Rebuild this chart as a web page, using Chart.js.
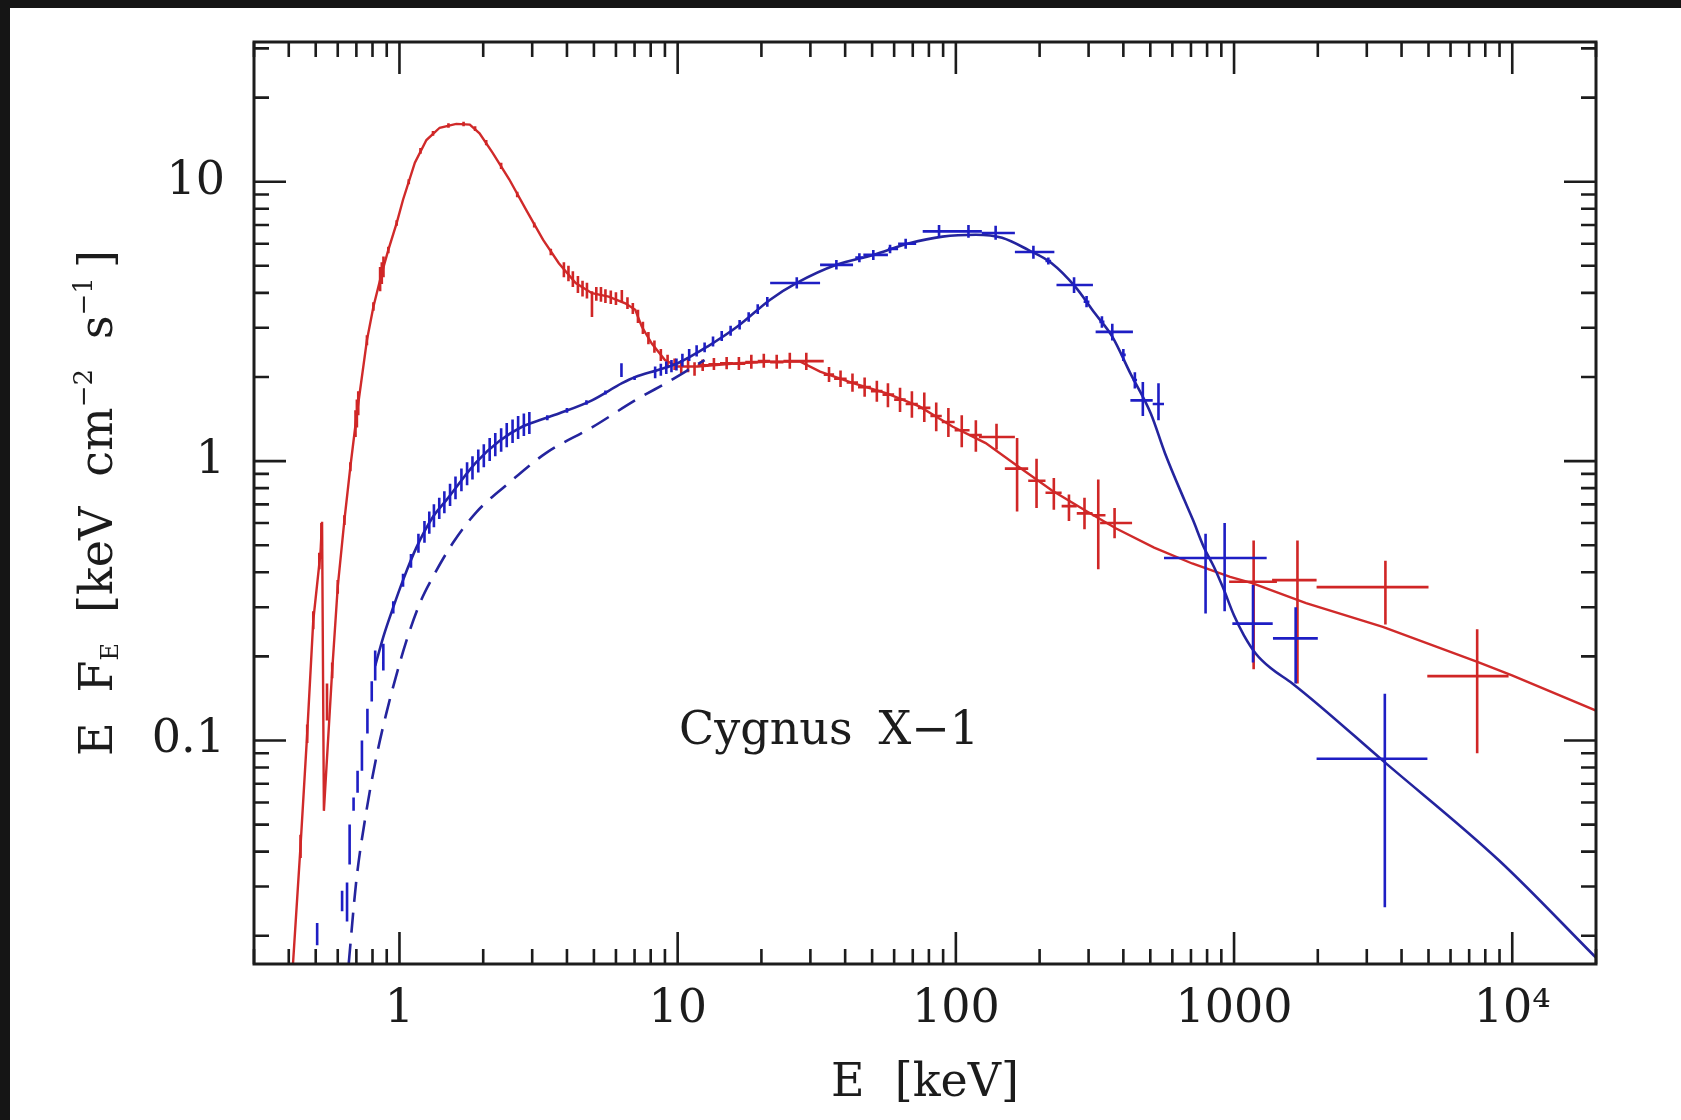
<!DOCTYPE html>
<html>
<head>
<meta charset="utf-8">
<title>Cygnus X-1</title>
<script src="https://cdn.jsdelivr.net/npm/chart.js@4.4.1/dist/chart.umd.min.js"></script>
<style>
  html, body { margin: 0; padding: 0; background: #151515; }
  body { width: 1681px; height: 1120px; overflow: hidden; position: relative; }
  #wrap { position: absolute; left: 10px; top: 8px; width: 1671px; height: 1112px; background: #fff; }
</style>
</head>
<body>
<div id="wrap"><canvas id="spec"></canvas></div>
<script>
// ejes (keV y keV cm^-2 s^-1)
const xTicks = [1, 10, 100, 1000, 10000];
const xTickLabels = ['1', '10', '100', '1000', '10⁴'];
const yTicks = [0.1, 1, 10];
const yTickLabels = ['0.1', '1', '10'];

// modelo estado blando (rojo)
const redModelE = [0.41, 0.441, 0.466, 0.49, 0.52, 0.527, 0.535, 0.573, 0.6, 0.634, 0.666, 0.703, 0.764, 0.806, 0.864, 0.912, 0.977, 1.03, 1.136, 1.25, 1.395, 1.6, 1.79, 1.94, 2.16, 2.48, 2.85, 3.28, 3.74, 4.3, 4.92, 5.65, 6.48, 7.04, 7.43, 8.06, 9.0, 10.0, 11.8, 16.4, 21.5, 27.6, 32.5, 42.7, 56.1, 73.9, 97.2, 128, 168, 221, 291, 377, 516, 707, 968, 1161, 1815, 3425, 7493, 9980, 20000];
const redModelF = [0.0135, 0.042, 0.106, 0.269, 0.468, 0.606, 0.056, 0.178, 0.355, 0.615, 0.954, 1.48, 2.71, 3.57, 4.71, 5.7, 7.11, 8.62, 11.7, 14.1, 15.6, 16.1, 16.0, 14.9, 12.7, 10.2, 7.94, 6.2, 5.11, 4.34, 3.99, 3.88, 3.67, 3.48, 3.03, 2.64, 2.3, 2.18, 2.18, 2.24, 2.27, 2.27, 2.09, 1.9, 1.75, 1.57, 1.33, 1.16, 0.955, 0.787, 0.667, 0.574, 0.49, 0.43, 0.385, 0.366, 0.31, 0.255, 0.191, 0.171, 0.128];

// modelo estado duro (azul) y componente a trazos
const blueModelE = [0.818, 0.875, 0.95, 1.03, 1.15, 1.32, 1.474, 1.886, 2.286, 2.77, 3.18, 3.74, 4.92, 6.31, 7.04, 8.5, 10, 12.8, 16.4, 21.5, 26.8, 37.2, 50.5, 68, 89.5, 118, 146.5, 182, 221, 268, 316, 365, 424, 502, 565, 663, 712, 778, 847, 911, 1000, 1085, 1200, 1350, 1620, 3483, 8968, 20000];
const blueModelF = [0.185, 0.235, 0.30, 0.375, 0.49, 0.632, 0.725, 0.99, 1.18, 1.33, 1.40, 1.48, 1.65, 1.90, 2.0, 2.12, 2.24, 2.57, 3.03, 3.78, 4.34, 5.04, 5.47, 6.02, 6.36, 6.46, 6.3, 5.7, 5.11, 4.22, 3.38, 2.79, 2.06, 1.48, 1.065, 0.725, 0.615, 0.493, 0.418, 0.354, 0.28, 0.238, 0.204, 0.182, 0.160, 0.0835, 0.0372, 0.0167];
const blueDashE = [0.657, 0.699, 0.759, 0.824, 0.895, 0.972, 1.055, 1.184, 1.317, 1.553, 1.891, 2.42, 3.36, 4.92, 7.04, 9.5, 12.5];
const blueDashF = [0.0159, 0.0312, 0.0552, 0.0862, 0.124, 0.1696, 0.2245, 0.31, 0.384, 0.508, 0.657, 0.82, 1.068, 1.32, 1.65, 1.95, 2.30];

// datos: [E, F, Emin, Emax, Fmin, Fmax]
const redData = [
  [0.441, 0.042, 0.437, 0.445, 0.038, 0.046], [0.466, 0.106, 0.462, 0.470, 0.098, 0.114],
  [0.490, 0.269, 0.486, 0.494, 0.250, 0.290], [0.515, 0.44, 0.512, 0.518, 0.41, 0.47],
  [0.524, 0.55, 0.521, 0.527, 0.50, 0.60], [0.549, 0.137, 0.546, 0.552, 0.118, 0.160],
  [0.573, 0.178, 0.569, 0.577, 0.167, 0.190], [0.600, 0.355, 0.596, 0.604, 0.335, 0.375],
  [0.634, 0.615, 0.630, 0.638, 0.590, 0.640], [0.666, 0.954, 0.662, 0.670, 0.920, 0.990],
  [0.695, 1.36, 0.692, 0.698, 1.22, 1.52], [0.703, 1.48, 0.700, 0.706, 1.32, 1.66],
  [0.711, 1.62, 0.708, 0.714, 1.46, 1.78], [0.764, 2.71, 0.760, 0.768, 2.60, 2.82],
  [0.806, 3.57, 0.802, 0.810, 3.45, 3.70], [0.852, 4.48, 0.849, 0.855, 4.05, 4.95],
  [0.864, 4.71, 0.861, 0.867, 4.30, 5.15], [0.876, 4.95, 0.873, 0.879, 4.55, 5.40],
  [0.912, 5.70, 0.908, 0.916, 5.55, 5.85], [0.977, 7.11, 0.973, 0.981, 6.95, 7.28],
  [1.08, 10.0, 1.075, 1.085, 9.8, 10.2], [1.19, 12.9, 1.185, 1.195, 12.6, 13.2],
  [1.32, 14.9, 1.31, 1.33, 14.6, 15.2], [1.50, 15.9, 1.49, 1.51, 15.6, 16.2],
  [1.70, 16.1, 1.69, 1.71, 15.8, 16.4], [1.87, 15.5, 1.86, 1.88, 15.2, 15.8],
  [2.05, 13.8, 2.04, 2.06, 13.5, 14.1], [2.32, 11.4, 2.31, 2.33, 11.1, 11.7],
  [2.65, 9.0, 2.64, 2.66, 8.8, 9.2], [3.05, 7.0, 3.04, 3.06, 6.85, 7.15],
  [3.50, 5.6, 3.49, 3.51, 5.45, 5.75], [3.90, 4.85, 3.88, 3.92, 4.55, 5.15],
  [4.05, 4.70, 4.03, 4.07, 4.40, 5.00], [4.20, 4.48, 4.18, 4.22, 4.20, 4.78],
  [4.38, 4.30, 4.36, 4.40, 4.00, 4.60], [4.55, 4.15, 4.53, 4.57, 3.88, 4.42],
  [4.72, 4.08, 4.70, 4.74, 3.82, 4.35], [4.92, 3.80, 4.90, 4.94, 3.28, 4.05],
  [5.10, 3.98, 5.08, 5.12, 3.75, 4.20], [5.30, 3.96, 5.28, 5.32, 3.72, 4.20],
  [5.50, 3.90, 5.48, 5.52, 3.68, 4.12], [5.75, 3.86, 5.73, 5.77, 3.65, 4.08],
  [6.00, 3.82, 5.98, 6.02, 3.62, 4.02], [6.30, 3.86, 6.28, 6.32, 3.70, 4.10],
  [6.60, 3.68, 6.58, 6.62, 3.50, 3.86], [6.90, 3.52, 6.88, 6.92, 3.36, 3.68],
  [7.20, 3.30, 7.18, 7.22, 3.12, 3.48], [7.50, 3.00, 7.48, 7.52, 2.85, 3.15],
  [7.85, 2.76, 7.83, 7.87, 2.62, 2.90], [8.25, 2.57, 8.22, 8.28, 2.44, 2.70],
  [8.70, 2.40, 8.67, 8.73, 2.28, 2.52], [9.20, 2.28, 9.17, 9.23, 2.17, 2.40],
  [9.75, 2.22, 9.72, 9.78, 2.12, 2.33], [10.3, 2.18, 10.27, 10.33, 2.06, 2.30],
  [10.9, 2.22, 10.85, 10.95, 2.08, 2.36], [11.5, 2.14, 11.4, 11.6, 2.02, 2.26],
  [12.3, 2.20, 11.8, 12.9, 2.10, 2.31], [13.5, 2.22, 12.9, 14.2, 2.12, 2.34],
  [15.0, 2.24, 14.2, 15.8, 2.13, 2.36], [16.6, 2.23, 15.8, 17.5, 2.12, 2.36],
  [18.4, 2.26, 17.5, 19.4, 2.14, 2.40], [20.4, 2.28, 19.4, 21.5, 2.16, 2.42],
  [22.7, 2.26, 21.5, 24.0, 2.14, 2.40], [25.3, 2.28, 24.0, 26.7, 2.14, 2.44],
  [29.0, 2.28, 26.7, 33.5, 2.12, 2.44], [35.0, 2.04, 33.5, 36.5, 1.92, 2.17],
  [38.5, 1.97, 36.5, 40.5, 1.84, 2.11], [42.5, 1.91, 40.5, 44.5, 1.77, 2.06],
  [47.0, 1.84, 44.5, 49.5, 1.70, 1.99], [52.0, 1.78, 49.5, 54.5, 1.63, 1.94],
  [57.0, 1.73, 54.5, 60.0, 1.56, 1.90], [63.0, 1.66, 60.0, 66.0, 1.50, 1.83],
  [69.5, 1.60, 66.0, 73.0, 1.43, 1.78], [77.0, 1.55, 73.0, 81.0, 1.38, 1.76],
  [85.0, 1.45, 81.0, 89.0, 1.28, 1.62], [94.0, 1.38, 89.0, 99.0, 1.22, 1.55],
  [105, 1.29, 99, 112, 1.12, 1.46], [118, 1.24, 112, 124, 1.08, 1.40],
  [140, 1.22, 121, 163, 1.10, 1.36], [166, 0.94, 150, 182, 0.66, 1.21],
  [195, 0.85, 182, 210, 0.68, 1.02], [225, 0.77, 210, 240, 0.67, 0.87],
  [255, 0.69, 240, 272, 0.61, 0.76], [290, 0.65, 272, 310, 0.57, 0.74],
  [325, 0.64, 310, 345, 0.41, 0.86], [372, 0.60, 330, 430, 0.53, 0.68],
  [1176, 0.37, 960, 1426, 0.18, 0.52], [1690, 0.375, 1370, 1980, 0.16, 0.52],
  [3500, 0.354, 1980, 5000, 0.26, 0.44], [7480, 0.17, 4950, 9700, 0.09, 0.25]
];
const blueData = [
  [0.506, 0.0203, 0.503, 0.509, 0.0185, 0.0222], [0.622, 0.0267, 0.618, 0.626, 0.0245, 0.029],
  [0.648, 0.027, 0.645, 0.651, 0.0225, 0.031], [0.662, 0.043, 0.659, 0.665, 0.036, 0.050],
  [0.684, 0.059, 0.681, 0.687, 0.056, 0.0625], [0.707, 0.071, 0.704, 0.710, 0.065, 0.078],
  [0.733, 0.088, 0.730, 0.736, 0.078, 0.100], [0.767, 0.117, 0.764, 0.770, 0.106, 0.130],
  [0.795, 0.150, 0.792, 0.798, 0.138, 0.163], [0.818, 0.187, 0.815, 0.821, 0.164, 0.21],
  [0.875, 0.20, 0.871, 0.879, 0.178, 0.222], [0.95, 0.30, 0.945, 0.955, 0.285, 0.315],
  [1.03, 0.375, 1.025, 1.035, 0.355, 0.395], [1.10, 0.44, 1.095, 1.105, 0.415, 0.465],
  [1.17, 0.51, 1.165, 1.175, 0.47, 0.55], [1.23, 0.56, 1.225, 1.235, 0.51, 0.61],
  [1.28, 0.60, 1.275, 1.285, 0.55, 0.66], [1.33, 0.64, 1.325, 1.335, 0.58, 0.70],
  [1.39, 0.68, 1.385, 1.395, 0.62, 0.74], [1.45, 0.71, 1.445, 1.455, 0.65, 0.78],
  [1.52, 0.76, 1.515, 1.525, 0.69, 0.83], [1.59, 0.80, 1.585, 1.595, 0.73, 0.88],
  [1.67, 0.86, 1.665, 1.675, 0.78, 0.94], [1.75, 0.90, 1.745, 1.755, 0.82, 0.99],
  [1.83, 0.95, 1.825, 1.835, 0.86, 1.04], [1.92, 1.00, 1.915, 1.925, 0.91, 1.10],
  [2.01, 1.05, 2.005, 2.015, 0.95, 1.15], [2.11, 1.10, 2.105, 2.115, 1.00, 1.21],
  [2.21, 1.15, 2.205, 2.215, 1.04, 1.26], [2.32, 1.19, 2.315, 2.325, 1.08, 1.31],
  [2.43, 1.24, 2.425, 2.435, 1.12, 1.37], [2.55, 1.28, 2.545, 2.555, 1.16, 1.41],
  [2.67, 1.32, 2.665, 2.675, 1.20, 1.45], [2.80, 1.35, 2.795, 2.805, 1.23, 1.48],
  [2.93, 1.37, 2.925, 2.935, 1.25, 1.50], [3.4, 1.43, 3.39, 3.41, 1.40, 1.46],
  [4.0, 1.52, 3.99, 4.01, 1.49, 1.55], [4.7, 1.62, 4.69, 4.71, 1.59, 1.65],
  [5.5, 1.76, 5.49, 5.51, 1.73, 1.79], [6.28, 2.12, 6.26, 6.30, 2.00, 2.24],
  [7.0, 1.98, 6.99, 7.01, 1.95, 2.01], [8.3, 2.08, 8.25, 8.35, 1.98, 2.18],
  [8.7, 2.12, 8.65, 8.75, 2.02, 2.23], [9.1, 2.16, 9.05, 9.15, 2.05, 2.27],
  [9.5, 2.19, 9.45, 9.55, 2.08, 2.30], [9.9, 2.22, 9.85, 9.95, 2.11, 2.33],
  [10.4, 2.30, 10.3, 10.5, 2.18, 2.42], [11.0, 2.40, 10.9, 11.1, 2.28, 2.52],
  [11.7, 2.48, 11.6, 11.8, 2.37, 2.60], [12.5, 2.55, 12.4, 12.6, 2.45, 2.66],
  [13.4, 2.68, 13.3, 13.5, 2.57, 2.79], [14.4, 2.80, 14.3, 14.5, 2.69, 2.92],
  [15.5, 2.93, 15.4, 15.6, 2.81, 3.05], [16.7, 3.08, 16.6, 16.8, 2.96, 3.20],
  [18.0, 3.28, 17.9, 18.1, 3.15, 3.41], [19.4, 3.50, 19.3, 19.5, 3.36, 3.64],
  [21.0, 3.72, 20.9, 21.1, 3.57, 3.87], [26.8, 4.34, 21.5, 32.5, 4.15, 4.55],
  [37.2, 5.04, 32.5, 42.7, 4.85, 5.25], [45.0, 5.35, 43.5, 46.5, 5.15, 5.55],
  [50.5, 5.47, 46.5, 57.0, 5.25, 5.70], [58.0, 5.75, 57.0, 62.0, 5.55, 5.95],
  [66.0, 6.00, 62.0, 72.0, 5.75, 6.25], [87.0, 6.64, 76.0, 98.0, 6.30, 7.00],
  [111, 6.64, 98, 124, 6.30, 7.00], [139, 6.55, 124, 163, 6.20, 6.95],
  [190, 5.60, 163, 226, 5.30, 5.90], [215, 5.20, 210, 220, 5.05, 5.35],
  [266, 4.27, 230, 311, 4.00, 4.55], [295, 3.72, 288, 302, 3.55, 3.90],
  [335, 3.15, 328, 342, 3.00, 3.30], [365, 2.90, 318, 433, 2.70, 3.10],
  [400, 2.40, 392, 408, 2.28, 2.52], [440, 1.95, 432, 448, 1.82, 2.08],
  [470, 1.65, 424, 510, 1.45, 1.92], [535, 1.60, 510, 560, 1.40, 1.90],
  [790, 0.45, 560, 870, 0.285, 0.55], [925, 0.45, 870, 1310, 0.29, 0.60],
  [1170, 0.262, 986, 1377, 0.19, 0.36], [1665, 0.232, 1380, 2000, 0.16, 0.30],
  [3483, 0.086, 1980, 4955, 0.0253, 0.147]
];

// posición de la etiqueta del objeto (en unidades de los ejes)
const labelE = 35, labelF = 0.0975;

const fontFam = "'DejaVu Serif', 'Liberation Serif', serif";
const ink = '#1c1c1c';

const toXY = (xs, ys) => xs.map((x, i) => ({ x, y: ys[i] }));
// cada punto se dibuja como una cruz: barra horizontal + barra vertical, separadas por huecos
const crosses = pts => pts.flatMap(([e, f, elo, ehi, flo, fhi]) => [
  { x: elo, y: f }, { x: ehi, y: f }, { x: e, y: null },
  { x: e, y: flo }, { x: e, y: fhi }, { x: e, y: null }
]);

// texto con sub/superíndices: [texto, tamaño, desplazamiento]; un número suelto es un hueco
const richText = (ctx, parts) => {
  const widths = parts.map(p => {
    if (typeof p === 'number') return p;
    ctx.font = `${p[1]}px ${fontFam}`;
    return ctx.measureText(p[0]).width;
  });
  const total = widths.reduce((a, b) => a + b, 0);
  let x = -total / 2;
  parts.forEach((p, i) => {
    if (typeof p !== 'number') {
      ctx.font = `${p[1]}px ${fontFam}`;
      ctx.fillText(p[0], x, p[2]);
    }
    x += widths[i];
  });
};

// marco, marcas hacia dentro en los cuatro lados y títulos
const frameTicks = {
  id: 'frameTicks',
  afterDraw(chart) {
    const { ctx, chartArea: a, scales: { x, y } } = chart;
    const logTicks = (lo, hi) => {
      const out = [];
      for (let k = Math.floor(Math.log10(lo)); k <= Math.ceil(Math.log10(hi)); k++) {
        for (let m = 1; m < 10; m++) {
          const v = m * Math.pow(10, k);
          if (v >= lo * 0.999 && v <= hi * 1.001) out.push([v, m === 1]);
        }
      }
      return out;
    };
    ctx.save();
    ctx.strokeStyle = ink;
    ctx.lineWidth = 2.6;
    ctx.beginPath();
    logTicks(x.min, x.max).forEach(([v, major]) => {
      const px = x.getPixelForValue(v), len = major ? 32 : 15;
      ctx.moveTo(px, a.bottom); ctx.lineTo(px, a.bottom - len);
      ctx.moveTo(px, a.top); ctx.lineTo(px, a.top + len);
    });
    logTicks(y.min, y.max).forEach(([v, major]) => {
      const py = y.getPixelForValue(v), len = major ? 32 : 15;
      ctx.moveTo(a.left, py); ctx.lineTo(a.left + len, py);
      ctx.moveTo(a.right, py); ctx.lineTo(a.right - len, py);
    });
    ctx.stroke();
    ctx.lineWidth = 3;
    ctx.strokeRect(a.left, a.top, a.right - a.left, a.bottom - a.top);

    ctx.fillStyle = ink;
    ctx.textBaseline = 'alphabetic';
    ctx.textAlign = 'left';
    // título eje x
    ctx.save();
    ctx.translate((a.left + a.right) / 2, 1088);
    richText(ctx, [['E', 46, 0], 30, ['[keV]', 46, 0]]);
    ctx.restore();
    // título eje y
    ctx.save();
    ctx.translate(102, (a.top + a.bottom) / 2);
    ctx.rotate(-Math.PI / 2);
    richText(ctx, [['E', 46, 0], 30, ['F', 46, 0], ['E', 24, 6], 30, ['[keV', 46, 0], 30, ['cm', 46, 0],
      ['−2', 26, -20], 30, ['s', 46, 0], ['−1', 26, -20], ['\u2009]', 46, 0]]);
    ctx.restore();
    // nombre de la fuente
    ctx.save();
    ctx.translate(x.getPixelForValue(labelE), y.getPixelForValue(labelF));
    richText(ctx, [['Cygnus', 46, 0], 26, ['X−1', 46, 0]]);
    ctx.restore();
    ctx.restore();
  }
};

const red = '#d02a2a', redBar = '#d02626';
const blue = '#24249e', blueBar = '#1e1ec4';

new Chart(document.getElementById('spec'), {
  type: 'scatter',
  data: {
    datasets: [
      { data: crosses(blueData), borderColor: blueBar, borderWidth: 2.6, showLine: true, pointRadius: 0 },
      { data: toXY(blueModelE, blueModelF), borderColor: blue, borderWidth: 2.6, showLine: true, pointRadius: 0, cubicInterpolationMode: 'monotone' },
      { data: toXY(blueDashE, blueDashF), borderColor: blue, borderWidth: 2.6, showLine: true, pointRadius: 0, borderDash: [20, 11], cubicInterpolationMode: 'monotone' },
      { data: crosses(redData), borderColor: redBar, borderWidth: 2.6, showLine: true, pointRadius: 0 },
      { data: toXY(redModelE, redModelF), borderColor: red, borderWidth: 2.4, showLine: true, pointRadius: 0 }
    ]
  },
  options: {
    responsive: true,
    maintainAspectRatio: false,
    animation: false,
    layout: { padding: { top: 34, right: 85, left: 0, bottom: 0 } },
    plugins: { legend: { display: false }, tooltip: { enabled: false } },
    scales: {
      x: {
        type: 'logarithmic',
        min: Math.pow(10, -0.5),
        max: 2e4,
        grid: { display: false, drawTicks: false },
        border: { display: false },
        afterBuildTicks: s => { s.ticks = xTicks.map(v => ({ value: v })); },
        afterFit: s => { s.height = 156; s.paddingLeft = 0; s.paddingRight = 0; },
        ticks: {
          autoSkip: false, maxRotation: 0, padding: 18, color: ink,
          font: { family: fontFam, size: 46 },
          callback: v => xTickLabels[xTicks.indexOf(v)] ?? ''
        }
      },
      y: {
        type: 'logarithmic',
        min: Math.pow(10, -1.8),
        max: Math.pow(10, 1.5),
        grid: { display: false, drawTicks: false },
        border: { display: false },
        afterBuildTicks: s => { s.ticks = yTicks.map(v => ({ value: v })); },
        afterFit: s => { s.width = 244; s.paddingTop = 0; s.paddingBottom = 0; },
        ticks: {
          autoSkip: false, padding: 29, color: ink,
          font: { family: fontFam, size: 46 },
          callback: v => yTickLabels[yTicks.indexOf(v)] ?? ''
        }
      }
    }
  },
  plugins: [frameTicks]
});
</script>
</body>
</html>
